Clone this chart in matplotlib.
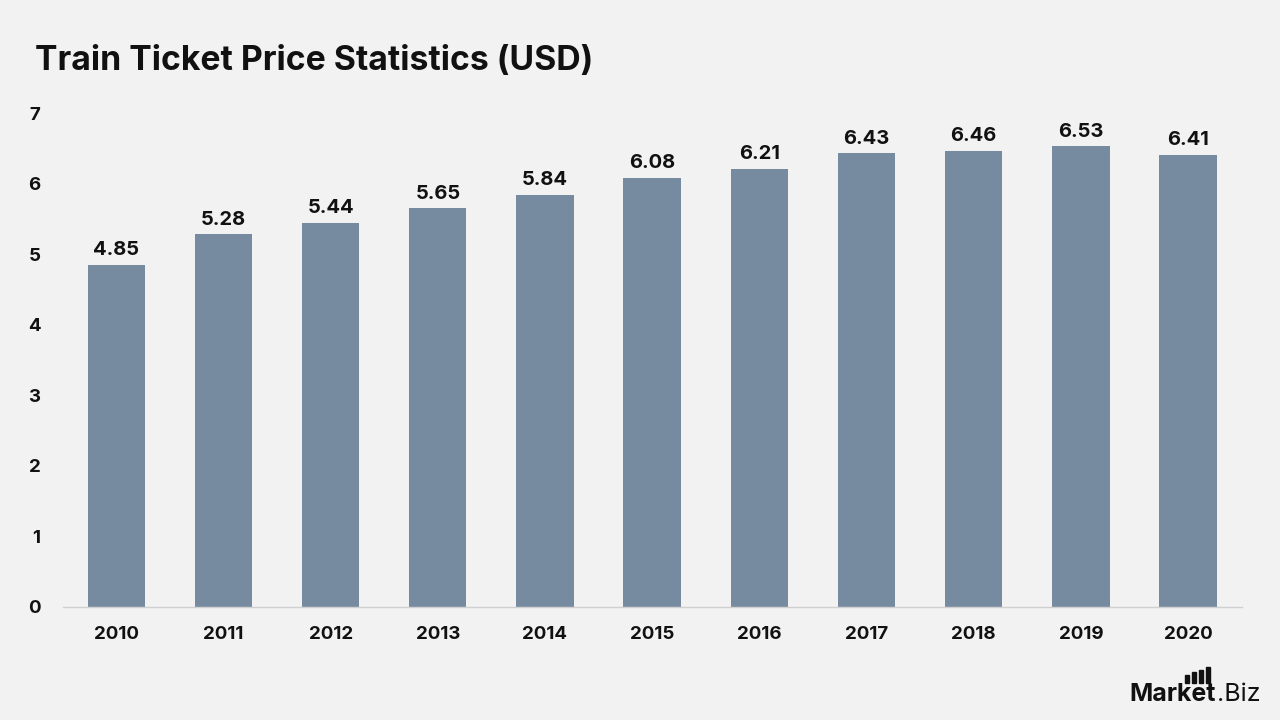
import matplotlib
matplotlib.use("Agg")
import matplotlib.pyplot as plt
from matplotlib.patches import Rectangle

years = ["2010", "2011", "2012", "2013", "2014", "2015", "2016", "2017", "2018", "2019", "2020"]
prices = [4.85, 5.28, 5.44, 5.65, 5.84, 6.08, 6.21, 6.43, 6.46, 6.53, 6.41]

bg = "#f2f2f2"
bar_color = "#778ba0"
plt.rcParams['font.family'] = ['Inter', 'DejaVu Sans']

fig = plt.figure(figsize=(12.8, 7.2), dpi=100, facecolor=bg)
ax = fig.add_axes([0.049, 0.157, 0.921, 0.686], facecolor=bg)

x = range(len(years))
ax.bar(x, prices, width=0.535, color=bar_color, zorder=2)
for xi, v in zip(x, prices):
    ax.text(xi, v + 0.08, f"{v:.2f}", ha="center", va="bottom",
            fontsize=14.5, fontweight="bold", color="#111111")

ax.set_xlim(-0.5, len(years) - 0.5)
ax.set_ylim(0, 7)
ax.set_yticks(range(0, 8))
ax.set_xticks(list(x))
ax.set_xticklabels(years)
for s in ["top", "right", "left"]:
    ax.spines[s].set_visible(False)
ax.spines["bottom"].set_color("#d0d0d0")
ax.spines["bottom"].set_linewidth(1)
ax.tick_params(axis="both", length=0, labelsize=13.5, labelcolor="#111111")
ax.tick_params(axis="x", pad=14)
ax.tick_params(axis="y", pad=16)
for lab in ax.get_xticklabels() + ax.get_yticklabels():
    lab.set_fontweight("bold")

fig.text(0.027, 0.915, "Train Ticket Price Statistics (USD)", fontsize=24.3,
         fontweight="bold", color="#111111", ha="left", va="center")

# logo
renderer = fig.canvas.get_renderer()
t1 = fig.text(0.882, 0.027, "Market", fontsize=18, fontweight="bold", color="#111111",
              ha="left", va="baseline")
bb = t1.get_window_extent(renderer=renderer).transformed(fig.transFigure.inverted())
fig.text(bb.x1 + 0.001, 0.027, ".Biz", fontsize=18, color="#111111", ha="left", va="baseline")
for i, h in enumerate([0.011, 0.015, 0.018, 0.022]):
    fig.patches.append(Rectangle((bb.x1 - 0.024 + i * 0.0056, 0.052), 0.0032, h,
                                 transform=fig.transFigure, color="#111111"))

fig.savefig("out.png", dpi=100, facecolor=bg)
